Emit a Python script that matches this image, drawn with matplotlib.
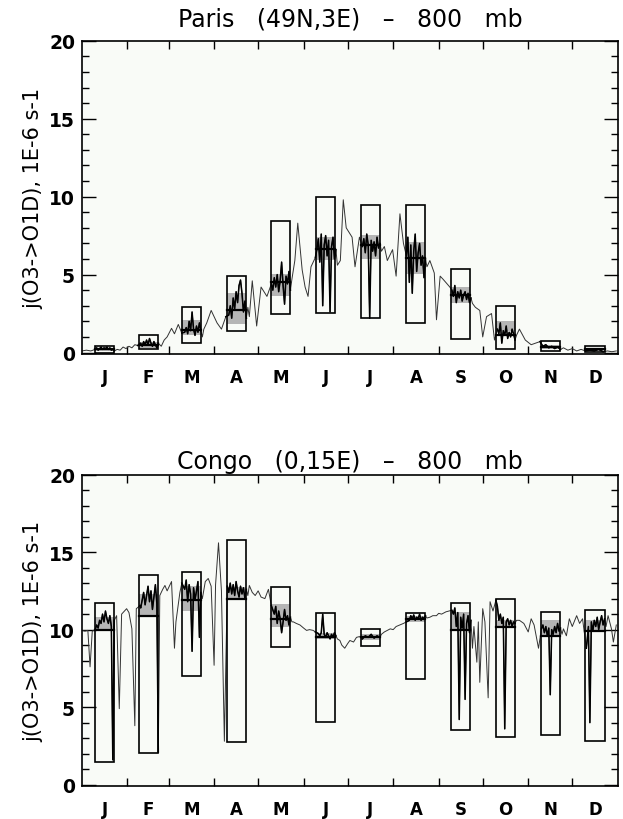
import numpy as np
import matplotlib.pyplot as plt
from matplotlib.patches import Rectangle

# month layout
month_labels = ["J", "F", "M", "A", "M", "J", "J", "A", "S", "O", "N", "D"]
month_len = [31, 28, 31, 30, 31, 30, 31, 31, 30, 31, 30, 31]

# Paris (49N,3E) daily j(O3->O1D)
paris_days = [0, 3, 6, 9, 10, 11, 12, 13, 14, 15, 16, 17, 18, 19, 20, 21, 22, 24, 26, 28, 30, 32, 34, 36, 38,
              40, 41, 42, 43, 44, 45, 46, 47, 48, 49, 50, 51, 52, 54, 56, 58, 61, 63, 65.6, 68,
              70, 71, 72, 73, 74, 75, 76, 77, 78, 79, 80, 81, 82, 83, 85, 88, 92, 95, 98,
              100, 101, 102, 103, 104, 105, 106, 107, 108, 109, 110, 111, 112, 113, 114, 116, 119, 122, 126, 129,
              130, 131, 132, 133, 134, 135, 136, 137, 138, 139, 140, 141, 142, 143, 145, 147, 150, 152, 154, 156, 159,
              160, 161, 162, 163, 164, 165, 166, 167, 168, 169, 170, 171, 172, 173, 174, 176, 178, 180, 184, 186, 189,
              191, 192, 193, 194, 195, 196, 197, 198, 199, 200, 201, 202, 203, 204, 206, 208, 211.6, 214, 216.6, 219,
              221, 222, 223, 224, 225, 226, 227, 228, 229, 230, 231, 232, 233, 234, 235, 237, 240, 241.5, 244, 246, 250.6,
              252, 253, 254, 255, 256, 257, 258, 259, 260, 261, 262, 263, 264, 265, 266, 268, 271, 273, 275.6, 279, 281,
              283, 284, 285, 286, 287, 288, 289, 290, 291, 292, 293, 294, 295, 296, 298, 302, 306, 309, 312,
              314, 316, 318, 320, 322, 324, 326, 328, 331, 334, 337, 340, 343, 346, 349, 352, 355, 358, 361, 364]
paris_vals = [0.1, 0.15, 0.1, 0.2, 0.3, 0.15, 0.25, 0.35, 0.2, 0.3, 0.25, 0.35, 0.2, 0.3, 0.15, 0.2, 0.1, 0.2, 0.15, 0.35, 0.25, 0.4, 0.3, 0.5, 0.45,
              0.6, 0.4, 0.7, 0.5, 0.8, 0.5, 0.9, 0.6, 0.4, 0.7, 0.5, 0.3, 0.6, 0.4, 0.8, 1.0, 1.55, 1.2, 1.8, 1.25,
              1.3, 1.6, 1.2, 2.0, 1.4, 2.6, 1.5, 1.1, 1.7, 1.3, 1.9, 1.4, 1.0, 1.5, 1.9, 2.7, 1.9, 1.5, 2.3,
              2.4, 3.0, 2.2, 3.5, 2.8, 3.9, 3.2, 4.3, 4.65, 3.8, 2.6, 3.3, 2.2, 2.9, 2.3, 4.6, 1.7, 4.2, 3.6, 4.4,
              4.0, 4.8, 4.2, 5.0, 3.9, 4.6, 5.8, 4.3, 3.1, 4.9, 4.4, 5.2, 4.0, 4.7, 5.9, 8.3, 5.3, 4.2, 3.6, 5.5, 6.1,
              6.6, 7.3, 5.8, 7.6, 3.0, 6.9, 7.5, 6.2, 7.2, 2.6, 6.8, 7.4, 6.0, 6.6, 5.6, 5.9, 9.8, 8.0, 7.4, 5.5, 7.4,
              6.8, 7.3, 6.4, 7.6, 6.9, 2.2, 7.2, 6.5, 7.1, 6.2, 7.4, 6.7, 7.0, 6.5, 6.8, 5.9, 6.6, 4.9, 8.9, 7.0,
              6.2, 7.4, 4.5, 6.9, 3.8, 6.5, 7.6, 5.2, 6.4, 7.0, 5.6, 6.2, 4.8, 6.0, 5.5, 5.9, 5.1, 2.1, 4.9, 4.7, 4.2,
              4.0, 3.6, 4.3, 3.2, 3.9, 3.5, 4.0, 3.3, 3.7, 3.9, 3.4, 3.8, 3.2, 3.5, 3.15, 2.9, 2.7, 1.0, 2.3, 2.5, 0.8,
              1.5, 1.2, 1.9, 0.6, 1.4, 1.1, 1.7, 0.9, 1.3, 1.0, 1.5, 1.2, 0.8, 1.1, 1.5, 0.8, 0.5, 0.6, 0.7,
              0.4, 0.5, 0.3, 0.4, 0.25, 0.35, 0.2, 0.3, 0.15, 0.25, 0.1, 0.2, 0.1, 0.15, 0.1, 0.2, 0.05, 0.1, 0.05, 0.1]

# Paris monthly statistics
paris_max = [0.4, 1.15, 2.9, 4.9, 8.45, 10.0, 9.45, 9.45, 5.35, 3.0, 0.75, 0.4]
paris_min = [0.0, 0.2, 0.6, 1.4, 2.5, 2.55, 2.2, 1.9, 0.85, 0.2, 0.1, 0.05]
paris_q_hi = [0.3, 0.7, 2.1, 3.8, 5.05, 7.4, 7.55, 7.1, 4.2, 2.0, 0.5, 0.25]
paris_q_lo = [0.1, 0.3, 1.15, 1.85, 3.6, 5.95, 6.0, 5.05, 3.15, 1.35, 0.2, 0.1]
paris_mean = [0.2, 0.5, 1.45, 2.75, 4.55, 6.65, 6.9, 6.05, 3.7, 1.15, 0.35, 0.2]

# Congo (0,15E) daily j(O3->O1D)
congo_days = [0, 2, 4, 5.5, 7, 9, 10, 11, 12, 13, 14, 15, 16, 17, 18, 19, 20, 21, 22, 23.6, 25.4, 27, 29, 30.4, 32, 34, 36, 37, 39.5,
              40, 41, 42, 43, 44, 45, 46, 47, 48, 49, 50, 51, 52, 53, 55, 56.5, 58, 61, 63, 64, 66.7, 68,
              70, 71, 72, 73, 74, 75, 76, 77, 78, 79, 80, 81, 82, 84, 86, 88, 90, 91, 93, 95, 97, 99,
              100, 101, 102, 103, 104, 105, 106, 107, 108, 109, 110, 111, 112, 113, 114, 116, 118, 120, 122, 124.6, 127, 129,
              131, 132, 133, 134, 135, 136, 137, 138, 139, 140, 141, 142, 143, 144, 146, 148.5, 151, 153, 155, 157.5, 159,
              161, 162, 163, 164, 165, 166, 167, 168, 169, 170, 171, 172, 173, 174, 175.7, 177, 179, 181, 182.5, 185, 187, 189,
              191, 193, 195, 197, 199, 201, 203, 204, 206, 208, 210, 212, 214, 216.6, 219, 221,
              223, 224, 225, 226, 227, 228, 229, 230, 231, 232, 233, 234, 235, 237, 239, 241.5, 243, 245, 248, 250, 252,
              253, 254, 255, 256, 257, 258, 259, 260, 261, 262, 263, 264, 265, 266, 267, 269, 270, 271, 273, 274.5, 276.7, 278, 280, 282,
              283, 284, 285, 286, 287, 288, 289, 290, 291, 292, 293, 294, 295, 296, 298, 301, 304, 306, 308, 311, 313,
              314, 315, 316, 317, 318, 319, 320, 321, 322, 323, 324, 325, 326, 327, 328, 330, 332, 334, 337, 339, 341, 343.6,
              345, 346, 347, 348, 349, 350, 351, 352, 353, 354, 355, 356, 357, 358.4, 360.7, 362, 364]
congo_vals = [9.95, 9.9, 9.95, 7.6, 9.9, 10.0, 10.3, 10.1, 10.6, 10.4, 11.0, 10.5, 11.2, 10.7, 10.4, 10.9, 10.2, 1.6, 10.6, 10.9, 4.9, 11.0, 11.2, 11.35, 11.1, 10.05, 3.8, 11.35, 11.55,
              11.4, 11.9, 12.4, 11.6, 12.2, 12.8, 11.8, 12.5, 11.3, 12.1, 12.9, 11.7, 2.1, 12.2, 12.6, 12.85, 12.5, 13.1, 8.8, 10.5, 12.4, 13.0,
              12.6, 13.2, 11.8, 12.9, 12.3, 8.6, 12.7, 11.9, 12.5, 13.1, 9.5, 12.4, 12.0, 13.1, 13.3, 12.8, 7.7, 12.9, 15.6, 12.5, 2.8, 12.8,
              12.4, 13.0, 12.3, 12.9, 12.2, 13.1, 12.5, 12.1, 12.8, 12.3, 12.7, 12.0, 12.6, 12.2, 12.85, 12.4, 12.2, 12.5, 12.1, 12.0, 12.6, 11.55,
              11.0, 11.5, 10.4, 11.2, 10.7, 9.8, 10.5, 11.3, 10.6, 10.9, 10.3, 10.8, 10.5, 10.5, 10.4, 10.3, 10.1, 9.95, 10.0, 9.95, 9.85,
              9.75, 9.6, 9.8, 11.0, 9.7, 9.5, 9.8, 9.6, 9.4, 9.7, 9.5, 9.8, 9.6, 9.4, 9.3, 9.0, 8.8, 9.1, 9.3, 9.2, 9.5, 9.55,
              9.4, 9.6, 9.5, 9.7, 9.45, 9.6, 9.5, 9.7, 9.85, 9.95, 10.05, 10.0, 10.2, 10.3, 10.4, 10.5,
              10.6, 10.9, 10.7, 10.95, 10.6, 10.8, 10.7, 11.0, 10.6, 10.8, 10.7, 10.9, 10.75, 10.8, 10.9, 10.9, 11.05, 11.0, 11.15, 11.2, 11.25,
              11.0, 11.4, 10.2, 11.1, 4.2, 10.8, 10.1, 11.0, 5.5, 10.4, 10.9, 9.8, 10.6, 8.8, 10.2, 7.9, 10.5, 6.6, 11.35, 10.5, 5.6, 11.8, 11.2, 11.9,
              11.5, 10.6, 11.0, 10.4, 10.8, 3.6, 10.5, 10.7, 10.3, 10.6, 10.2, 10.5, 10.4, 10.6, 10.6, 10.4, 9.85, 10.7, 10.3, 8.8, 10.05,
              10.3, 9.8, 10.2, 9.6, 10.1, 5.8, 10.0, 9.7, 10.2, 9.8, 10.4, 9.9, 10.1, 9.7, 10.05, 9.6, 10.7, 10.2, 10.9, 10.4, 10.7, 8.8,
              10.2, 4.0, 10.5, 9.9, 10.6, 10.2, 10.8, 10.0, 10.5, 10.9, 10.3, 10.7, 10.2, 10.9, 10.05, 9.2, 10.3]

# Congo monthly statistics
congo_max = [11.7, 13.5, 13.7, 15.8, 12.75, 11.1, 10.05, 11.1, 11.7, 11.95, 11.15, 11.25]
congo_min = [1.45, 2.05, 7.0, 2.75, 8.85, 4.05, 8.95, 6.8, 3.5, 3.1, 3.2, 2.8]
congo_q_hi = [10.8, 12.3, 12.8, 12.75, 11.65, 9.8, 9.7, 10.9, 11.15, 10.6, 10.6, 10.6]
congo_q_lo = [9.9, 10.9, 11.2, 12.0, 10.2, 9.4, 9.35, 10.5, 9.9, 10.2, 9.6, 9.9]
congo_mean = [10.0, 10.9, 11.9, 12.0, 10.7, 9.5, 9.5, 10.7, 9.95, 10.2, 9.6, 9.9]

month_start = np.concatenate([[0], np.cumsum(month_len)])
month_mid = month_start[:-1] + np.array(month_len) / 2.0
half_w = 6.5


def draw_panel(ax, title, title_pad, days, vals, vmax, vmin, qhi, qlo, vmean):
    days = np.array(days)
    vals = np.array(vals)
    ax.set_facecolor("#f9fbf7")
    ax.plot(days, vals, color="#333333", lw=0.7, zorder=2)
    for i in range(12):
        c = month_mid[i]
        x0 = c - half_w
        # shaded inner range
        ax.add_patch(Rectangle((x0, qlo[i]), 2 * half_w, qhi[i] - qlo[i],
                               facecolor="#b5b5b5", edgecolor="none", zorder=1))
        # dense in-box data
        m = (days >= x0 - 0.5) & (days <= x0 + 2 * half_w + 0.5)
        ax.plot(days[m], vals[m], color="black", lw=1.1, zorder=3)
        # min-max box
        ax.add_patch(Rectangle((x0, vmin[i]), 2 * half_w, vmax[i] - vmin[i],
                               facecolor="none", edgecolor="black", lw=1.2, zorder=4))
        ax.plot([x0, x0 + 2 * half_w], [vmean[i], vmean[i]], color="black", lw=1.6, zorder=4)

    ax.set_xlim(0, 365)
    ax.set_ylim(-0.1, 20)
    ax.set_xticks(month_mid)
    ax.set_xticklabels(month_labels, fontweight="bold", fontsize=12)
    ax.set_xticks(month_start[1:-1], minor=True)
    ax.tick_params(axis="x", which="major", length=0, pad=10)
    ax.tick_params(axis="x", which="minor", direction="in", length=6, top=True, bottom=True, width=1)
    ax.set_yticks([0, 5, 10, 15, 20])
    ax.set_yticks(np.arange(0, 21, 1), minor=True)
    ax.tick_params(axis="y", which="major", direction="in", length=10, left=True, right=True, width=1,
                   labelsize=13.5, pad=5)
    ax.tick_params(axis="y", which="minor", direction="in", length=5, left=True, right=True, width=1)
    for lab in ax.get_yticklabels():
        lab.set_fontweight("bold")
    ax.set_ylabel("j(O3->O1D), 1E-6 s-1", fontsize=15, labelpad=4)
    ax.set_title(title, fontsize=17, pad=title_pad)
    for s in ax.spines.values():
        s.set_linewidth(1.2)


fig = plt.figure(figsize=(6.23, 8.2), dpi=100)
ax1 = fig.add_axes([0.1316, 0.567, 0.860, 0.382])
ax2 = fig.add_axes([0.1316, 0.040, 0.860, 0.380])

draw_panel(ax1, "Paris   (49N,3E)   \u2013   800   mb", 11, paris_days, paris_vals,
           paris_max, paris_min, paris_q_hi, paris_q_lo, paris_mean)
draw_panel(ax2, "Congo   (0,15E)   \u2013   800   mb", 5, congo_days, congo_vals,
           congo_max, congo_min, congo_q_hi, congo_q_lo, congo_mean)

fig.savefig("out.png", dpi=100)
